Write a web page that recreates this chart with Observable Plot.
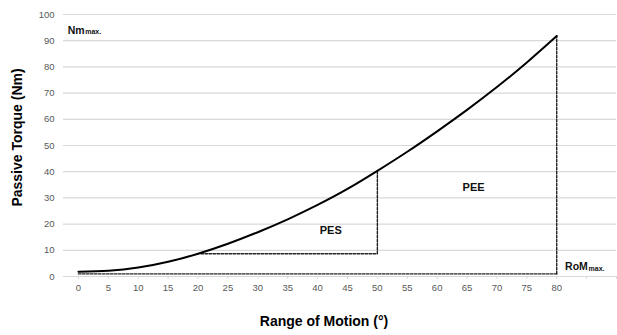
<!DOCTYPE html>
<html>
<head>
<meta charset="utf-8">
<script src="https://cdn.jsdelivr.net/npm/d3@7"></script>
<script src="https://cdn.jsdelivr.net/npm/@observablehq/plot@0.6"></script>
<style>
  html, body { margin: 0; padding: 0; background: #fff; }
  svg { font-family: "Liberation Sans", Arial, sans-serif; }
</style>
</head>
<body>
<div id="chart"></div>
<script>
// Range of motion (°) and passive torque (Nm) along the curve
const romValues = [0, 5, 10, 15, 20, 25, 30, 35, 40, 45, 50, 55, 60, 65, 70, 75, 80];
const torqueValues = [1.8, 2.2, 3.4, 5.6, 8.7, 12.5, 16.9, 21.8, 27.3, 33.4, 40.3, 47.6, 55.4, 63.6, 72.3, 81.7, 91.8];

// Dashed construction lines
const baselineX = [0, 80];
const baselineY = [1, 1];
const pesX = [20.5, 50, 50];
const pesY = [8.7, 8.7, 40.3];
const peeX = [80, 80];
const peeY = [1, 91.8];

// Tick values
const xTickValues = [0, 5, 10, 15, 20, 25, 30, 35, 40, 45, 50, 55, 60, 65, 70, 75, 80, 85, 90];
const xTickLabels = ["0","5","10","15","20","25","30","35","40","45","50","55","60","65","70","75","80","",""];
const yTickValues = [0, 10, 20, 30, 40, 50, 60, 70, 80, 90, 100];

// Annotations
const annoText = ["PES", "PEE"];
const annoX = [42.2, 66.1];
const annoY = [17.7, 34];

const curve = romValues.map((x, i) => ({x, y: torqueValues[i]}));
const baseline = baselineX.map((x, i) => ({x, y: baselineY[i]}));
const pes = pesX.map((x, i) => ({x, y: pesY[i]}));
const pee = peeX.map((x, i) => ({x, y: peeY[i]}));
const annos = annoText.map((t, i) => ({t, x: annoX[i], y: annoY[i]}));

const dash = {stroke: "#222", strokeWidth: 1.4, strokeDasharray: "2.5,1.5"};

const chart = Plot.plot({
  width: 617,
  height: 335,
  marginLeft: 63,
  marginRight: 1,
  marginTop: 14,
  marginBottom: 59,
  style: {fontFamily: "'Liberation Sans', Arial, sans-serif", background: "#fff"},
  x: {domain: [-2.5, 90]},
  y: {domain: [0, 100]},
  marks: [
    Plot.gridY(yTickValues, {stroke: "#d9d9d9", strokeOpacity: 1, strokeWidth: 1.2}),
    Plot.axisY({ticks: yTickValues, tickSize: 0, tickPadding: 9, label: null, fill: "#595959", fontSize: 9.5}),
    Plot.axisX({ticks: xTickValues, tickFormat: (d) => xTickLabels[xTickValues.indexOf(d)], tickSize: 3, tickPadding: 5, stroke: "#d9d9d9", label: null, fill: "#595959", fontSize: 9.5}),
    Plot.line(baseline, {x: "x", y: "y", ...dash}),
    Plot.line(pes, {x: "x", y: "y", ...dash}),
    Plot.line(pee, {x: "x", y: "y", ...dash}),
    Plot.line(curve, {x: "x", y: "y", curve: "natural", stroke: "#000", strokeWidth: 2}),
    Plot.text(annos, {x: "x", y: "y", text: "t", fontWeight: "bold", fontSize: 11, fill: "#111"}),
    Plot.text(["Nm"], {x: -1.8, y: 94, textAnchor: "start", fontWeight: "bold", fontSize: 10.5, fill: "#111"}),
    Plot.text(["max."], {x: -1.8, y: 94, dx: 17.5, dy: 1.5, textAnchor: "start", fontWeight: "bold", fontSize: 7, fill: "#111"}),
    Plot.text(["RoM"], {x: 81.4, y: 3.6, textAnchor: "start", fontWeight: "bold", fontSize: 10.5, fill: "#111"}),
    Plot.text(["max."], {x: 81.4, y: 3.6, dx: 23.5, dy: 1.5, textAnchor: "start", fontWeight: "bold", fontSize: 7, fill: "#111"}),
    Plot.text(["Passive Torque (Nm)"], {frameAnchor: "left", textAnchor: "middle", rotate: -90, dx: -46, dy: -8, fontWeight: "bold", fontSize: 14, fill: "#000"}),
    Plot.text(["Range of Motion (°)"], {frameAnchor: "bottom", dx: -16, dy: 49, fontWeight: "bold", fontSize: 14, fill: "#000"})
  ]
});
document.getElementById("chart").appendChild(chart);
</script>
</body>
</html>
